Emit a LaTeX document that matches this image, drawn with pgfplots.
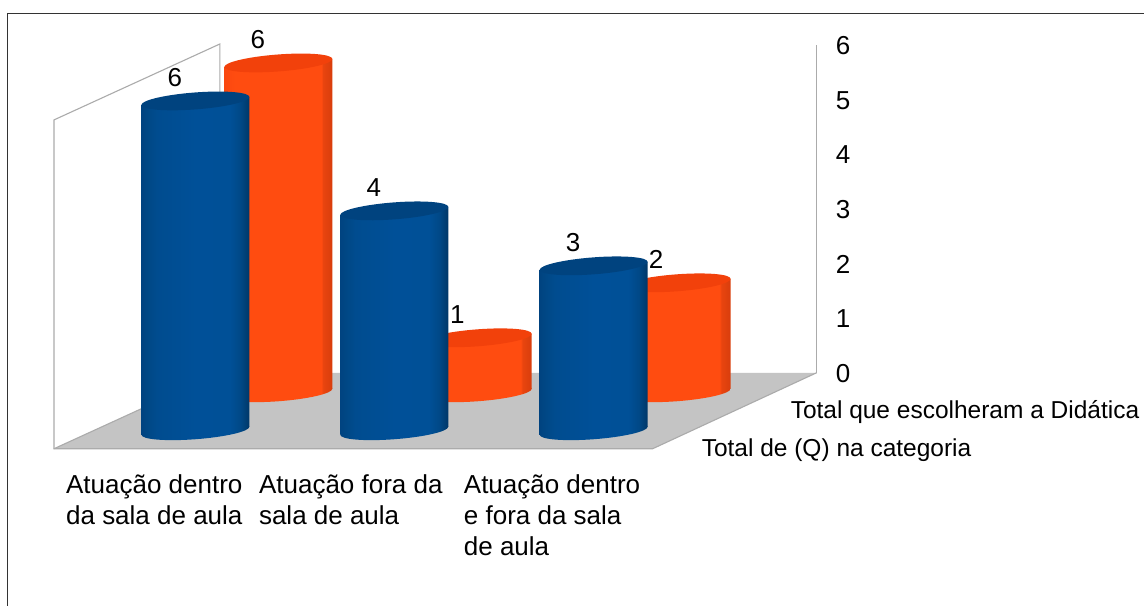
\documentclass[border=0pt]{standalone}
\usepackage{pgfplots}
\usepackage{fontspec}
\setmainfont{Liberation Sans}
\pgfplotsset{compat=1.18}
\definecolor{wallgray}{HTML}{ABABAB}
\definecolor{floorgray}{HTML}{C4C4C4}
\definecolor{framegray}{HTML}{333333}
\definecolor{bluetop}{HTML}{00437F}
\definecolor{orangetop}{HTML}{F2410B}
\definecolor{Ba}{HTML}{004380}
\definecolor{Bb}{HTML}{004886}
\definecolor{Bc}{HTML}{004C8F}
\definecolor{Bd}{HTML}{005098}
\definecolor{Be}{HTML}{005097}
\definecolor{Bf}{HTML}{003767}
\definecolor{Oa}{HTML}{FA480F}
\definecolor{Ob}{HTML}{FF4C10}
\definecolor{Oc}{HTML}{E9450F}
\definecolor{Od}{HTML}{D83D0C}
\pgfdeclarehorizontalshading{bluecyl}{100bp}{
 color(0bp)=(Ba);color(25bp)=(Ba);color(28bp)=(Bb);color(32bp)=(Bc);color(50bp)=(Bd);color(66bp)=(Be);color(71bp)=(Bb);color(75bp)=(Bf);color(100bp)=(Bf)}
\pgfdeclarehorizontalshading{orangecyl}{100bp}{
 color(0bp)=(Oa);color(25bp)=(Oa);color(30bp)=(Ob);color(70bp)=(Ob);color(70.6bp)=(Oc);color(75bp)=(Od);color(100bp)=(Od)}
\pgfdeclareplotmark{bluebase}{\pgfpathellipse{\pgfpointorigin}{\pgfqpoint{54pt}{4pt}}{\pgfqpoint{0pt}{8.5pt}}\pgfshadepath{bluecyl}{0}\pgfusepath{discard}}
\pgfdeclareplotmark{orangebase}{\pgfpathellipse{\pgfpointorigin}{\pgfqpoint{54pt}{4pt}}{\pgfqpoint{0pt}{8.5pt}}\pgfshadepath{orangecyl}{0}\pgfusepath{discard}}
\pgfdeclareplotmark{bluecap}{\pgfpathellipse{\pgfpointorigin}{\pgfqpoint{54pt}{4pt}}{\pgfqpoint{0pt}{8.5pt}}\pgfsetfillcolor{bluetop}\pgfusepath{fill}}
\pgfdeclareplotmark{orangecap}{\pgfpathellipse{\pgfpointorigin}{\pgfqpoint{54pt}{4pt}}{\pgfqpoint{0pt}{8.5pt}}\pgfsetfillcolor{orangetop}\pgfusepath{fill}}
\pgfplotsset{
 canvas/.style={scale only axis,width=1145pt,height=606pt,at={(0pt,0pt)},anchor=south west,
   hide axis,xmin=0,xmax=1145,clip=false},
 valuelabels/.style={point meta=y,
   nodes near coords={\pgfmathprintnumber[assume math mode=true,precision=0]{\pgfplotspointmeta}},
   nodes near coords style={anchor=center,xshift=-20.5pt,yshift=23pt,font=\fontsize{26}{30}\selectfont,text=black,inner sep=0pt}},
}
\begin{document}
\begin{tikzpicture}
% frame, walls and floor, in picture pixels
\begin{axis}[canvas,ymin=0,ymax=606,y dir=reverse]
\addplot[fill=white,draw=none] coordinates {(0,0)(1145,0)(1145,606)(0,606)} --cycle;
\addplot[draw=framegray,line width=1.3pt] coordinates {(7.5,606)(7.5,13.5)(1145,13.5)};
\addplot[fill=floorgray,draw=none] coordinates {(54,449)(653,449)(817,373)(220,373)} --cycle;
\addplot[draw=wallgray,line width=1.1pt] coordinates {(220,373)(220,44)(54,120)(54,449)(653,449)(817,373)};
\addplot[draw=wallgray,line width=1.1pt] coordinates {(54,449)(220,373)};
\node[anchor=west,inner sep=0pt,font=\fontsize{24.5}{28}\selectfont] at (axis cs:791,412) {Total que escolheram a Didática};
\node[anchor=west,inner sep=0pt,font=\fontsize{24.5}{28}\selectfont] at (axis cs:702,450) {Total de (Q) na categoria};
\end{axis}
% value axis on the back wall
\begin{axis}[scale only axis,width=817pt,height=328pt,at={(0pt,233pt)},anchor=south west,
  xmin=0,xmax=1,ymin=0,ymax=6,axis x line=none,axis y line=right,
  y axis line style={-,draw=wallgray,line width=1.1pt},
  ytick={0,1,2,3,4,5,6},tick style={draw=none},
  yticklabel style={font=\fontsize{26}{30}\selectfont,/pgf/number format/assume math mode=true,inner sep=0pt,xshift=17pt,yshift=-0.6pt}]
\end{axis}
% category labels
\begin{axis}[scale only axis,width=1145pt,height=449pt,at={(0pt,157pt)},anchor=south west,
  xmin=0,xmax=1145,ymin=0,ymax=1,axis y line=none,axis x line=bottom,
  x axis line style={-,draw=none},tick style={draw=none},
  xtick={66,259,464},
  xticklabels={{Atuação dentro\\da sala de aula},{Atuação fora da\\sala de aula},{Atuação dentro\\e fora da sala\\de aula}},
  xticklabel style={anchor=north west,align=left,inner sep=0pt,yshift=-23.5pt,
     font=\fontsize{26}{31}\selectfont}]
\end{axis}
% back row: Total que escolheram a Didática
\begin{axis}[canvas,ymin=-3.8727,ymax=7.1455]
\addplot[only marks,mark=orangebase] coordinates {(278.5,0)(478,0)(677,0)};
\addplot[draw=none,shade,shading=orangecyl,shading angle=0] coordinates {(224.5,-0.073)(332.5,0.073)(332.5,6.073)(224.5,5.927)} --cycle;
\addplot[draw=none,shade,shading=orangecyl,shading angle=0] coordinates {(424,-0.073)(532,0.073)(532,1.073)(424,0.927)} --cycle;
\addplot[draw=none,shade,shading=orangecyl,shading angle=0] coordinates {(623,-0.073)(731,0.073)(731,2.073)(623,1.927)} --cycle;
\addplot[only marks,mark=orangecap,valuelabels] coordinates {(278.5,6)(478,1)(677,2)};
\end{axis}
% front row: Total de (Q) na categoria
\begin{axis}[canvas,ymin=-3.1818,ymax=7.8364]
\addplot[only marks,mark=bluebase] coordinates {(195.5,0)(394.5,0)(594,0)};
\addplot[draw=none,shade,shading=bluecyl,shading angle=0] coordinates {(141.5,-0.073)(249.5,0.073)(249.5,6.073)(141.5,5.927)} --cycle;
\addplot[draw=none,shade,shading=bluecyl,shading angle=0] coordinates {(340.5,-0.073)(448.5,0.073)(448.5,4.073)(340.5,3.927)} --cycle;
\addplot[draw=none,shade,shading=bluecyl,shading angle=0] coordinates {(540,-0.073)(648,0.073)(648,3.073)(540,2.927)} --cycle;
\addplot[only marks,mark=bluecap,valuelabels] coordinates {(195.5,6)(394.5,4)(594,3)};
\end{axis}
\end{tikzpicture}
\end{document}
